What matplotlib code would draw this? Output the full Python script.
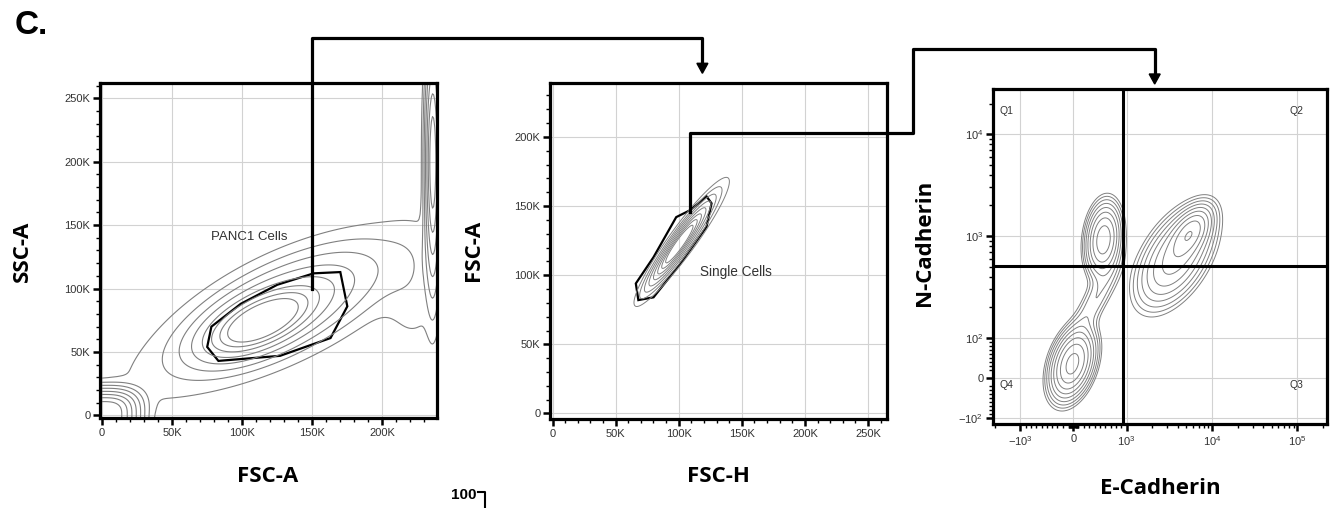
import numpy as np
import matplotlib.pyplot as plt
from matplotlib.lines import Line2D
from matplotlib.patches import Polygon
from matplotlib.ticker import FixedLocator, MultipleLocator

plt.rcParams['mathtext.fontset'] = 'custom'
plt.rcParams['mathtext.rm'] = 'Liberation Sans'

W, H = 1331, 508

# ---------------- values ----------------
# panel 1 : FSC-A vs SSC-A
fsca_ticks = [0, 50000, 100000, 150000, 200000]
fsca_labels = ["0", "50K", "100K", "150K", "200K"]
ssca_ticks = [0, 50000, 100000, 150000, 200000, 250000]
ssca_labels = ["0", "50K", "100K", "150K", "200K", "250K"]

# populations: centre, spread along / across, tilt (deg), height, shape power
p1_cx = [112e3, 132e3, 120e3, 0, 236e3, 222e3]
p1_cy = [73e3, 87e3, 78e3, 0, 200e3, 95e3]
p1_s1 = [24e3, 40e3, 78e3, 18e3, 3e3, 14e3]
p1_s2 = [11e3, 17e3, 21e3, 14e3, 50e3, 28e3]
p1_ang = [28, 28, 30, 0, 0, 0]
p1_amp = [1.0, 0.33, 0.055, 1.0, 0.8, 0.03]
p1_pow = [2, 2, 2, 3, 2, 2]

gate1_x = [170e3, 175e3, 163e3, 127e3, 83e3, 75e3, 78e3, 99e3, 125e3, 151e3]
gate1_y = [113e3, 86e3, 61e3, 47e3, 43e3, 54e3, 70e3, 88e3, 103e3, 112e3]
gate1_link = (150e3, 100e3)

# panel 2 : FSC-H vs FSC-A
fsch_ticks = [0, 50000, 100000, 150000, 200000, 250000]
fsch_labels = ["0", "50K", "100K", "150K", "200K", "250K"]
fsca2_ticks = [0, 50000, 100000, 150000, 200000]
fsca2_labels = ["0", "50K", "100K", "150K", "200K"]

p2_cx = [100e3, 105e3]
p2_cy = [122e3, 127e3]
p2_s1 = [19e3, 25e3]
p2_s2 = [3.2e3, 4.5e3]
p2_ang = [52, 51]
p2_amp = [1.0, 0.18]
p2_pow = [2, 2]

gate2_x = [109e3, 122e3, 126e3, 122e3, 101e3, 80e3, 68e3, 66e3, 80e3, 98e3]
gate2_y = [147e3, 157e3, 152e3, 135e3, 108e3, 84e3, 82e3, 94e3, 113e3, 142e3]
gate2_link = (109e3, 146e3)

# panel 3 : E-Cadherin vs N-Cadherin (biexponential display)
ecad_ticks = [-1e3, 0, 1e3, 1e4, 1e5]
ecad_labels = ["$-10^{3}$", "0", "$10^{3}$", "$10^{4}$", "$10^{5}$"]
ncad_ticks = [-1e2, 0, 1e2, 1e3, 1e4]
ncad_labels = ["$-10^{2}$", "0", "$10^{2}$", "$10^{3}$", "$10^{4}$"]
quad_x = 940
quad_y = 510
quad_names = ["Q1", "Q2", "Q3", "Q4"]

# centres in data units, spreads in panel fractions
p3_cx = [3740, 5600, 566, -19, 415]
p3_cy = [612, 1080, 920, 35, 238]
p3_s1 = [0.085, 0.045, 0.055, 0.055, 0.08]
p3_s2 = [0.045, 0.024, 0.026, 0.03, 0.022]
p3_ang = [58, 56, 84, 72, 62]
p3_amp = [0.45, 0.6, 0.75, 1.0, 0.1]
p3_pow = [2, 2, 2, 2, 2]


def mixture(u, v, cx, cy, s1, s2, ang, amp, pw):
    z = np.zeros_like(u)
    for i in range(len(cx)):
        t = np.deg2rad(ang[i])
        du, dv = u - cx[i], v - cy[i]
        a = du * np.cos(t) + dv * np.sin(t)
        b = -du * np.sin(t) + dv * np.cos(t)
        z += amp[i] * np.exp(-0.5 * (np.abs(a / s1[i]) ** pw[i] + np.abs(b / s2[i]) ** pw[i]))
    return z


def box(l, t, r, b):
    return [l / W, 1 - b / H, (r - l) / W, (b - t) / H]


def style_axes(ax):
    for sp in ax.spines.values():
        sp.set_linewidth(2.3)
        sp.set_color('black')
    ax.tick_params(which='major', direction='out', length=5, width=1.8,
                   labelsize=8, labelcolor='#333333', pad=2, top=False, right=False)
    ax.tick_params(which='minor', direction='out', length=3, width=1.0, top=False, right=False)
    ax.grid(True, which='major', color='#d2d2d2', linewidth=0.8)
    ax.set_axisbelow(True)
    for lab in ax.get_xticklabels() + ax.get_yticklabels():
        lab.set_fontfamily('Liberation Sans')


levels = [0.02, 0.05, 0.1, 0.18, 0.3, 0.45, 0.62, 0.8]
ccol = '#808080'
lab_font = dict(family='Open Sans', weight='bold', size=16)

fig = plt.figure(figsize=(W / 100, H / 100), dpi=100)

# ---- panel 1 ----
ax1 = fig.add_axes(box(100, 83, 437, 418))
ax1.set_xlim(-1.5e3, 239e3)
ax1.set_ylim(-2e3, 262e3)
gx, gy = np.meshgrid(np.linspace(-1.5e3, 239e3, 300), np.linspace(-2e3, 262e3, 300))
z1 = mixture(gx, gy, p1_cx, p1_cy, p1_s1, p1_s2, p1_ang, p1_amp, p1_pow)
ax1.contour(gx, gy, z1, levels=levels, colors=ccol, linewidths=0.8)
ax1.fill(gate1_x, gate1_y, fill=False, edgecolor='black', linewidth=1.6)
ax1.text(105e3, 141e3, "PANC1 Cells", fontsize=9.5, color='#333333',
         family='Liberation Sans', ha='center', va='center')
ax1.set_xticks(fsca_ticks, fsca_labels)
ax1.set_yticks(ssca_ticks, ssca_labels)
ax1.xaxis.set_minor_locator(MultipleLocator(10000))
ax1.yaxis.set_minor_locator(MultipleLocator(10000))
style_axes(ax1)
fig.text(268 / W, 1 - 476 / H, "FSC-A", ha='center', va='center', **lab_font)
fig.text(22 / W, 1 - 251 / H, "SSC-A", ha='center', va='center', rotation=90, **lab_font)

# ---- panel 2 ----
ax2 = fig.add_axes(box(550, 83, 887, 419))
ax2.set_xlim(-2e3, 265e3)
ax2.set_ylim(-4e3, 239e3)
gx, gy = np.meshgrid(np.linspace(-2e3, 265e3, 400), np.linspace(-4e3, 239e3, 400))
z2 = mixture(gx, gy, p2_cx, p2_cy, p2_s1, p2_s2, p2_ang, p2_amp, p2_pow)
ax2.contour(gx, gy, z2, levels=levels, colors=ccol, linewidths=0.7)
ax2.fill(gate2_x, gate2_y, fill=False, edgecolor='black', linewidth=1.6)
ax2.text(145e3, 102e3, "Single Cells", fontsize=9.8, color='#333333',
         family='Liberation Sans', ha='center', va='center')
ax2.set_xticks(fsch_ticks, fsch_labels)
ax2.set_yticks(fsca2_ticks, fsca2_labels)
ax2.xaxis.set_minor_locator(MultipleLocator(10000))
ax2.yaxis.set_minor_locator(MultipleLocator(10000))
style_axes(ax2)
fig.text(718 / W, 1 - 476 / H, "FSC-H", ha='center', va='center', **lab_font)
fig.text(474 / W, 1 - 250 / H, "FSC-A", ha='center', va='center', rotation=90, **lab_font)

# ---- panel 3 ----
ax3 = fig.add_axes(box(993, 89, 1327, 424))
ax3.set_xscale('symlog', linthresh=1000, linscale=0.56)
ax3.set_yscale('symlog', linthresh=100, linscale=0.353)
ax3.set_xlim(-2085, 2.22e5)
ax3.set_ylim(-115, 27800)
fu, fv = np.meshgrid(np.linspace(0, 1, 300), np.linspace(0, 1, 300))
to_data = ax3.transAxes + ax3.transData.inverted()
pts = to_data.transform(np.column_stack([fu.ravel(), fv.ravel()]))
X3 = pts[:, 0].reshape(fu.shape)
Y3 = pts[:, 1].reshape(fu.shape)
to_frac = ax3.transData + ax3.transAxes.inverted()
cen = to_frac.transform(np.column_stack([p3_cx, p3_cy]))
z3 = mixture(fu, fv, cen[:, 0], cen[:, 1], p3_s1, p3_s2, p3_ang, p3_amp, p3_pow)
ax3.contour(X3, Y3, z3, levels=np.geomspace(0.03, 0.85, 9), colors=ccol, linewidths=0.7)
ax3.axvline(quad_x, color='black', linewidth=2.2)
ax3.axhline(quad_y, color='black', linewidth=2.2)
ax3.set_xticks(ecad_ticks, ecad_labels)
ax3.set_yticks(ncad_ticks, ncad_labels)
xminor = [s * k * 10 ** n for s in (-1, 1) for n in range(1, 6) for k in range(2, 10)]
yminor = [s * k * 10 ** n for s in (-1, 1) for n in range(1, 5) for k in range(2, 10)]
ax3.xaxis.set_minor_locator(FixedLocator([v for v in xminor if -2085 < v < 2.22e5]))
ax3.yaxis.set_minor_locator(FixedLocator([v for v in yminor if -115 < v < 27800]))
style_axes(ax3)
qpos = [(0.02, 0.933, 'left'), (0.93, 0.933, 'right'), (0.93, 0.117, 'right'), (0.02, 0.117, 'left')]
for name, (qx, qy, ha) in zip(quad_names, qpos):
    ax3.text(qx, qy, name, transform=ax3.transAxes, fontsize=7.5, color='#333333',
             family='Liberation Sans', ha=ha, va='center')
fig.text(1160 / W, 1 - 488 / H, "E-Cadherin", ha='center', va='center', **lab_font)
fig.text(924 / W, 1 - 243 / H, "N-Cadherin", ha='center', va='center', rotation=90, **lab_font)

# ---- connectors between gates ----
to_fig = fig.transFigure.inverted()


def fx(p):
    return p / W


def fy(p):
    return 1 - p / H


def arrow_head(x, ytip):
    tri = [(fx(x - 5.5), fy(ytip - 10)), (fx(x + 5.5), fy(ytip - 10)), (fx(x), fy(ytip))]
    fig.add_artist(Polygon(tri, closed=True, facecolor='black', edgecolor='black',
                           transform=fig.transFigure))


s1 = to_fig.transform(ax1.transData.transform(gate1_link))
xs = [s1[0], s1[0], fx(702.4), fx(702.4)]
ys = [s1[1], fy(38.3), fy(38.3), fy(64)]
fig.add_artist(Line2D(xs, ys, color='black', linewidth=2.3, transform=fig.transFigure))
arrow_head(702.4, 73.3)

s2 = to_fig.transform(ax2.transData.transform(gate2_link))
xs = [s2[0], s2[0], fx(912.7), fx(912.7), fx(1154.7), fx(1154.7)]
ys = [s2[1], fy(133.3), fy(133.3), fy(49.3), fy(49.3), fy(75)]
fig.add_artist(Line2D(xs, ys, color='black', linewidth=2.3, transform=fig.transFigure))
arrow_head(1154.7, 84)

fig.text(15 / W, 1 - 25 / H, "C.", fontsize=24, weight='bold', family='Liberation Sans',
         ha='left', va='center')
fig.text(477 / W, 1 - 495 / H, "100", fontsize=11, weight='bold', family='Liberation Sans',
         ha='right', va='center')
fig.add_artist(Line2D([fx(478), fx(485), fx(485)], [fy(492), fy(492), fy(508)],
                      color='black', linewidth=1.5, transform=fig.transFigure))

fig.savefig("out.png", dpi=100)
